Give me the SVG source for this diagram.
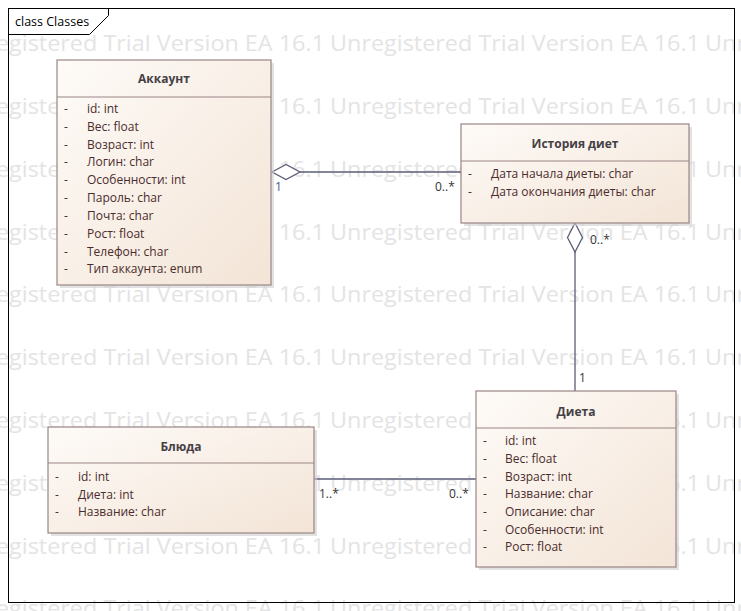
<svg xmlns="http://www.w3.org/2000/svg" xmlns:xlink="http://www.w3.org/1999/xlink" width="741" height="611" viewBox="0 0 741 611">
<style>
.wm{font-family:"Open Sans","DejaVu Sans",sans-serif;font-size:21px;fill:#e4e4e4}
.box{fill:url(#g);stroke:#9a8585;stroke-width:1.2}
.sh{fill:#cfcfcf;opacity:0.6}
.sep{stroke:#9a8585;stroke-width:1.2}
.ttl{font-family:"Open Sans","Liberation Sans",sans-serif;font-size:12px;font-weight:bold;fill:#454045;text-anchor:middle}
.at{font-family:"Open Sans","Liberation Sans",sans-serif;font-size:12px;fill:#4a2c2c}
.ln{stroke:#5c5c78;stroke-width:1.3;fill:none}
.dia{stroke:#5c5c78;stroke-width:1.3;fill:#ffffff}
.lb{font-family:"Open Sans","Liberation Sans",sans-serif;font-size:12px;fill:#333}
.lb1{font-family:"Open Sans","Liberation Sans",sans-serif;font-size:12px;fill:#3b5a8c}
.fr{font-family:"Open Sans","Liberation Sans",sans-serif;font-size:12.5px;fill:#000}
</style>
<defs>
<linearGradient id="g" x1="0" y1="0" x2="1" y2="1">
<stop offset="0" stop-color="#fefbf8"/>
<stop offset="1" stop-color="#f3e4d6"/>
</linearGradient>
<text id="wm" class="wm" textLength="370" lengthAdjust="spacingAndGlyphs">Unregistered Trial Version  EA 16.1</text>
</defs>
<rect width="741" height="611" fill="#ffffff"/>
<g id="watermark">
<use xlink:href="#wm" x="-45" y="51"/><use xlink:href="#wm" x="330" y="51"/><use xlink:href="#wm" x="705" y="51"/>
<use xlink:href="#wm" x="-45" y="114"/><use xlink:href="#wm" x="330" y="114"/><use xlink:href="#wm" x="705" y="114"/>
<use xlink:href="#wm" x="-45" y="177"/><use xlink:href="#wm" x="330" y="177"/><use xlink:href="#wm" x="705" y="177"/>
<use xlink:href="#wm" x="-45" y="240"/><use xlink:href="#wm" x="330" y="240"/><use xlink:href="#wm" x="705" y="240"/>
<use xlink:href="#wm" x="-45" y="302"/><use xlink:href="#wm" x="330" y="302"/><use xlink:href="#wm" x="705" y="302"/>
<use xlink:href="#wm" x="-45" y="365"/><use xlink:href="#wm" x="330" y="365"/><use xlink:href="#wm" x="705" y="365"/>
<use xlink:href="#wm" x="-45" y="428"/><use xlink:href="#wm" x="330" y="428"/><use xlink:href="#wm" x="705" y="428"/>
<use xlink:href="#wm" x="-45" y="491"/><use xlink:href="#wm" x="330" y="491"/><use xlink:href="#wm" x="705" y="491"/>
<use xlink:href="#wm" x="-45" y="554"/><use xlink:href="#wm" x="330" y="554"/><use xlink:href="#wm" x="705" y="554"/>
<use xlink:href="#wm" x="-45" y="616"/><use xlink:href="#wm" x="330" y="616"/><use xlink:href="#wm" x="705" y="616"/>
</g>
<g id="frame">
<rect x="8.5" y="8.5" width="726" height="594" fill="none" stroke="#000" stroke-width="1"/>
<path d="M8.5 34.5 H89.5 L108.5 15.5 V8.5" fill="none" stroke="#000" stroke-width="1"/>
<text class="fr" x="15" y="26">class Classes</text>
</g>
<g id="connectors">
<line class="ln" x1="300" y1="172" x2="461" y2="172"/>
<path class="dia" d="M272 172 L286 164.5 L300 172 L286 179.5 Z"/>
<text class="lb1" x="275" y="191">1</text>
<text class="lb" x="435" y="191">0..*</text>
<line class="ln" x1="575" y1="252" x2="575" y2="391"/>
<path class="dia" d="M575 223 L582.5 237.5 L575 252 L567.5 237.5 Z"/>
<text class="lb" x="590" y="244">0..*</text>
<text class="lb" x="579" y="382">1</text>
<line class="ln" x1="314" y1="479" x2="476" y2="479"/>
<text class="lb" x="319" y="498">1..*</text>
<text class="lb" x="449" y="498">0..*</text>
</g>
<g id="akkaunt">
<rect class="sh" x="60" y="63" width="214" height="225"/>
<rect class="box" x="57" y="60" width="214" height="225"/>
<line class="sep" x1="57" y1="97" x2="271" y2="97"/>
<text class="ttl" x="164" y="83">Аккаунт</text>
<g class="at">
<text x="64" y="113">-</text><text x="87" y="113">id: int</text>
<text x="64" y="131">-</text><text x="87" y="131">Вес: float</text>
<text x="64" y="149">-</text><text x="87" y="149">Возраст: int</text>
<text x="64" y="166">-</text><text x="87" y="166">Логин: char</text>
<text x="64" y="184">-</text><text x="87" y="184">Особенности: int</text>
<text x="64" y="202">-</text><text x="87" y="202">Пароль: char</text>
<text x="64" y="220">-</text><text x="87" y="220">Почта: char</text>
<text x="64" y="238">-</text><text x="87" y="238">Рост: float</text>
<text x="64" y="256">-</text><text x="87" y="256">Телефон: char</text>
<text x="64" y="273">-</text><text x="87" y="273">Тип аккаунта: enum</text>
</g>
</g>
<g id="istoriya">
<rect class="sh" x="464" y="127" width="228" height="99"/>
<rect class="box" x="461" y="124" width="228" height="99"/>
<line class="sep" x1="461" y1="161" x2="689" y2="161"/>
<text class="ttl" x="575" y="148">История диет</text>
<g class="at">
<text x="468" y="178">-</text><text x="491" y="178">Дата начала диеты: char</text>
<text x="468" y="196">-</text><text x="491" y="196">Дата окончания диеты: char</text>
</g>
</g>
<g id="dieta">
<rect class="sh" x="479" y="394" width="200" height="176"/>
<rect class="box" x="476" y="391" width="200" height="176"/>
<line class="sep" x1="476" y1="428" x2="676" y2="428"/>
<text class="ttl" x="576" y="416">Диета</text>
<g class="at">
<text x="483" y="445">-</text><text x="505" y="445">id: int</text>
<text x="483" y="463">-</text><text x="505" y="463">Вес: float</text>
<text x="483" y="481">-</text><text x="505" y="481">Возраст: int</text>
<text x="483" y="498">-</text><text x="505" y="498">Название: char</text>
<text x="483" y="516">-</text><text x="505" y="516">Описание: char</text>
<text x="483" y="534">-</text><text x="505" y="534">Особенности: int</text>
<text x="483" y="551">-</text><text x="505" y="551">Рост: float</text>
</g>
</g>
<g id="blyuda">
<rect class="sh" x="51" y="430" width="266" height="106"/>
<rect class="box" x="48" y="427" width="266" height="106"/>
<line class="sep" x1="48" y1="463" x2="314" y2="463"/>
<text class="ttl" x="181" y="451">Блюда</text>
<g class="at">
<text x="55" y="481">-</text><text x="78" y="481">id: int</text>
<text x="55" y="499">-</text><text x="78" y="499">Диета: int</text>
<text x="55" y="516">-</text><text x="78" y="516">Название: char</text>
</g>
</g>
</svg>
